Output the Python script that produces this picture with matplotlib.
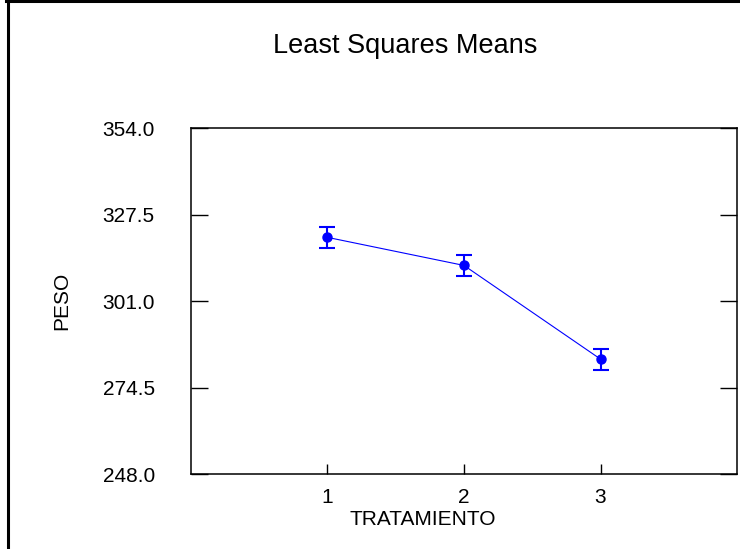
import matplotlib

matplotlib.use("Agg")
import matplotlib.pyplot as plt
from matplotlib.lines import Line2D

plt.rcParams["font.family"] = ["Liberation Sans", "DejaVu Sans"]

# least squares means by treatment
tratamiento = [1, 2, 3]
peso = [320.5, 311.9, 283.2]
error = [3.3, 3.2, 3.2]
y_ticks = [248.0, 274.5, 301.0, 327.5, 354.0]

fig = plt.figure(figsize=(7.4, 5.49), dpi=100)
ax = fig.add_axes([0.258, 0.1366, 0.738, 0.6302])

ax.plot(tratamiento, peso, color="blue", linewidth=0.8)
ax.errorbar(
    tratamiento, peso, yerr=error, fmt="o", color="blue", markersize=6.5,
    elinewidth=1.5, capsize=6, capthick=1.5,
)

ax.set_xlim(0, 4)
ax.set_ylim(y_ticks[0], y_ticks[-1])
ax.set_xticks(tratamiento)
ax.set_yticks(y_ticks)
ax.set_yticklabels([f"{v:.1f}" for v in y_ticks])
ax.tick_params(axis="y", direction="in", length=12, width=1, left=True, right=True,
               pad=26, labelsize=15)
ax.tick_params(axis="x", direction="in", length=7, width=1, top=False,
               pad=10, labelsize=15)
for spine in ax.spines.values():
    spine.set_linewidth(1.1)

# axis titles placed as in the original layout (x title is off-centre)
fig.text(0.5716, 0.054, "TRATAMIENTO", fontsize=15, ha="center", va="center")
fig.text(0.084, 0.452, "PESO", rotation=90, fontsize=15, ha="center", va="center")
fig.text(0.547, 0.916, "Least Squares Means", fontsize=19.5, ha="center", va="center")

# outer border (top and left edges only)
fig.add_artist(Line2D([0.008, 1.0], [0.998, 0.998], color="black", linewidth=2.2,
                      transform=fig.transFigure))
fig.add_artist(Line2D([0.011, 0.011], [0.0, 1.0], color="black", linewidth=2.2,
                      transform=fig.transFigure))

fig.savefig("out.png", dpi=100)
